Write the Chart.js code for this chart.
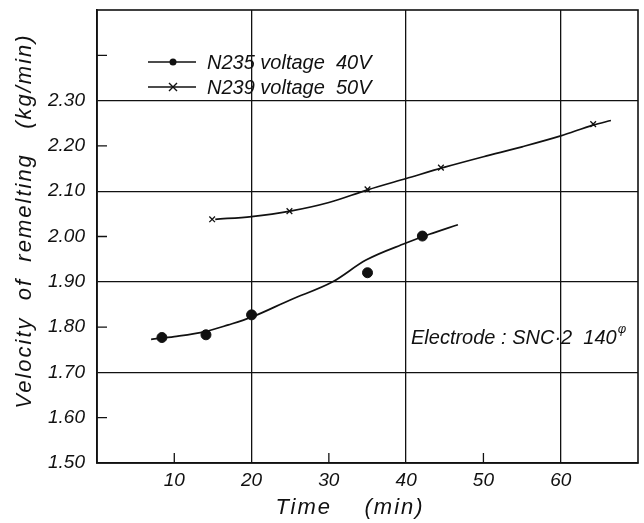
<!DOCTYPE html>
<html>
<head>
<meta charset="utf-8">
<script src="https://cdn.jsdelivr.net/npm/chart.js@4/dist/chart.umd.min.js"></script>
<style>
  html, body { margin: 0; padding: 0; background: #fff; }
  #wrap { width: 644px; height: 523px; }
</style>
</head>
<body>
<div id="wrap"><canvas id="chart" width="644" height="523"></canvas></div>
<script>
// measured points (time in min, velocity kg/min)
var n235Time = [8.4, 14.1, 20.0, 35.0, 42.1];
var n235Rate = [1.777, 1.783, 1.827, 1.920, 2.001];
var n239Time = [14.9, 24.9, 35.0, 44.5, 64.2];
var n239Rate = [2.038, 2.056, 2.104, 2.152, 2.248];

// hand drawn curves
var n235CurveTime = [7.0, 10, 14, 17, 20, 25, 30.5, 34.8, 39.9, 43, 46.7];
var n235CurveRate = [1.773, 1.779, 1.790, 1.805, 1.822, 1.860, 1.900, 1.948, 1.985, 2.005, 2.026];
var n239CurveTime = [15.3, 20, 25, 30, 35, 40, 45, 50, 55, 60, 64.2, 66.5];
var n239CurveRate = [2.038, 2.044, 2.056, 2.075, 2.103, 2.128, 2.153, 2.176, 2.198, 2.222, 2.246, 2.256];

var timeLabels = [10, 20, 30, 40, 50, 60];
var timeGrid = [20, 40, 60];
var timeMinor = [10, 30, 50];
var rateGrid = [1.7, 1.9, 2.1, 2.3];
var rateMinor = [1.6, 1.8, 2.0, 2.2, 2.4];

var seriesNames = ["N235 voltage  40V", "N239 voltage  50V"];
var fontFam = "'Liberation Sans', Arial, sans-serif";

function pts(xs, ys) {
    return xs.map(function (x, i) { return { x: x, y: ys[i] }; });
}
function near(v, list) {
    return list.some(function (a) { return Math.abs(a - v) < 1e-6; });
}

var extras = {
    id: 'extras',
    afterDraw: function (chart) {
        var ctx = chart.ctx;
        var a = chart.chartArea;
        var xs = chart.scales.x, ys = chart.scales.y;
        ctx.save();
        ctx.strokeStyle = '#111';
        ctx.fillStyle = '#111';

        // frame
        ctx.lineWidth = 1.6;
        ctx.strokeRect(a.left, a.top, a.right - a.left, a.bottom - a.top);

        // inside tick marks
        ctx.lineWidth = 1.3;
        ctx.beginPath();
        rateMinor.forEach(function (v) {
            var y = ys.getPixelForValue(v);
            ctx.moveTo(a.left, y); ctx.lineTo(a.left + 10, y);
        });
        timeMinor.forEach(function (v) {
            var x = xs.getPixelForValue(v);
            ctx.moveTo(x, a.bottom); ctx.lineTo(x, a.bottom - 10);
        });
        ctx.stroke();

        // legend
        ctx.font = 'italic 20px ' + fontFam;
        ctx.textBaseline = 'middle';
        ctx.textAlign = 'left';
        var ly = [62, 87];
        ctx.lineWidth = 1.4;
        for (var i = 0; i < 2; i++) {
            ctx.beginPath();
            ctx.moveTo(148, ly[i]); ctx.lineTo(196, ly[i]);
            ctx.stroke();
            if (i === 0) {
                ctx.beginPath();
                ctx.arc(173, ly[i], 3.5, 0, Math.PI * 2);
                ctx.fill();
            } else {
                ctx.beginPath();
                ctx.moveTo(169, ly[i] - 4); ctx.lineTo(177, ly[i] + 4);
                ctx.moveTo(177, ly[i] - 4); ctx.lineTo(169, ly[i] + 4);
                ctx.stroke();
            }
            ctx.fillText(seriesNames[i], 207, ly[i] + 1);
        }

        // electrode note
        ctx.fillText('Electrode : SNC\u00b72  140', 411, 338);
        var w = ctx.measureText('Electrode : SNC\u00b72  140').width;
        ctx.font = 'italic 13px ' + fontFam;
        ctx.fillText('\u03c6', 411 + w + 1, 329);

        // axis titles
        ctx.font = 'italic 22px ' + fontFam;
        ctx.textAlign = 'center';
        ctx.letterSpacing = '2px';
        ctx.fillText('Time    (min)', 350, 508);
        ctx.translate(25, 221);
        ctx.rotate(-Math.PI / 2);
        ctx.fillText('Velocity  of  remelting   (kg/min)', 0, 0);
        ctx.restore();
    }
};

new Chart(document.getElementById('chart'), {
    type: 'scatter',
    data: {
        datasets: [{
            label: seriesNames[0] + ' curve',
            data: pts(n235CurveTime, n235CurveRate),
            showLine: true,
            borderColor: '#111',
            borderWidth: 1.7,
            pointRadius: 0,
            cubicInterpolationMode: 'monotone'
        }, {
            label: seriesNames[1] + ' curve',
            data: pts(n239CurveTime, n239CurveRate),
            showLine: true,
            borderColor: '#111',
            borderWidth: 1.7,
            pointRadius: 0,
            cubicInterpolationMode: 'monotone'
        }, {
            label: seriesNames[0],
            data: pts(n235Time, n235Rate),
            pointStyle: 'circle',
            pointRadius: 5,
            backgroundColor: '#111',
            borderColor: '#111'
        }, {
            label: seriesNames[1],
            data: pts(n239Time, n239Rate),
            pointStyle: 'crossRot',
            pointRadius: 4,
            borderWidth: 1.3,
            borderColor: '#111',
            backgroundColor: '#111'
        }]
    },
    options: {
        responsive: false,
        animation: false,
        layout: { padding: { top: 10, right: 2, left: 0, bottom: 0 } },
        plugins: {
            legend: { display: false },
            tooltip: { enabled: false }
        },
        scales: {
            x: {
                type: 'linear',
                min: 0,
                max: 70,
                afterFit: function (s) {
                    s.height = 60;
                    s.paddingLeft = 0;
                    s.paddingRight = 0;
                    s.paddingTop = 0;
                    s.paddingBottom = 0;
                },
                border: { display: true, color: '#111', width: 1.6 },
                grid: {
                    drawTicks: false,
                    lineWidth: 1.3,
                    color: function (c) { return near(c.tick.value, timeGrid) ? '#111' : 'rgba(0,0,0,0)'; }
                },
                ticks: {
                    stepSize: 10,
                    padding: 6,
                    color: '#111',
                    font: { family: fontFam, size: 19, style: 'italic' },
                    callback: function (v) { return near(v, timeLabels) ? String(v) : ''; }
                }
            },
            y: {
                min: 1.5,
                max: 2.5,
                afterFit: function (s) {
                    s.width = 97;
                    s.paddingTop = 0;
                    s.paddingBottom = 0;
                    s.paddingLeft = 0;
                    s.paddingRight = 0;
                },
                border: { display: true, color: '#111', width: 1.6 },
                grid: {
                    drawTicks: false,
                    lineWidth: 1.3,
                    color: function (c) { return near(c.tick.value, rateGrid) ? '#111' : 'rgba(0,0,0,0)'; }
                },
                ticks: {
                    stepSize: 0.1,
                    padding: 12,
                    color: '#111',
                    font: { family: fontFam, size: 19, style: 'italic' },
                    callback: function (v) { return v < 2.35 ? v.toFixed(2) : ''; }
                }
            }
        }
    },
    plugins: [extras]
});
</script>
</body>
</html>
